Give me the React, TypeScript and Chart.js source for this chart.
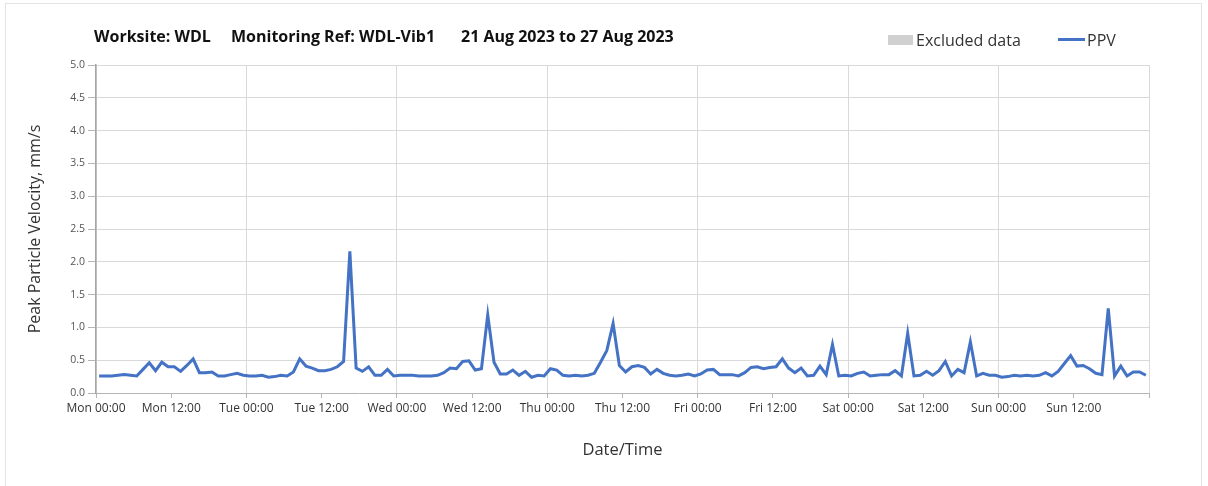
import React, { useEffect, useRef } from "react";
import { Chart, registerables } from "chart.js";

Chart.register(...registerables);

// Hourly PPV samples (mm/s), Mon 00:00 .. Sun 23:00, plotted at the middle of each hour
const ppv: number[] = [
  0.26, 0.26, 0.26, 0.27, 0.28, 0.27, 0.26, 0.36, 0.46, 0.34, 0.47, 0.40,
  0.40, 0.33, 0.42, 0.52, 0.31, 0.31, 0.32, 0.26, 0.26, 0.28, 0.30, 0.27,
  0.26, 0.26, 0.27, 0.24, 0.25, 0.27, 0.26, 0.32, 0.52, 0.41, 0.38, 0.34,
  0.34, 0.36, 0.40, 0.48, 2.16, 0.38, 0.33, 0.40, 0.27, 0.27, 0.36, 0.26,
  0.27, 0.27, 0.27, 0.26, 0.26, 0.26, 0.27, 0.31, 0.38, 0.37, 0.48, 0.49,
  0.35, 0.37, 1.19, 0.47, 0.29, 0.29, 0.35, 0.27, 0.33, 0.24, 0.27, 0.26,
  0.37, 0.35, 0.27, 0.26, 0.27, 0.26, 0.27, 0.30, 0.47, 0.65, 1.06, 0.42,
  0.32, 0.40, 0.42, 0.39, 0.29, 0.36, 0.30, 0.27, 0.26, 0.27, 0.29, 0.26,
  0.29, 0.35, 0.36, 0.28, 0.28, 0.28, 0.26, 0.31, 0.39, 0.40, 0.37, 0.39,
  0.40, 0.52, 0.38, 0.31, 0.38, 0.26, 0.27, 0.41, 0.28, 0.74, 0.26, 0.27,
  0.26, 0.30, 0.32, 0.26, 0.27, 0.28, 0.28, 0.34, 0.26, 0.91, 0.26, 0.27,
  0.33, 0.27, 0.34, 0.48, 0.26, 0.36, 0.31, 0.78, 0.26, 0.30, 0.27, 0.27,
  0.24, 0.25, 0.27, 0.26, 0.27, 0.26, 0.27, 0.31, 0.26, 0.33, 0.45, 0.57,
  0.41, 0.42, 0.37, 0.30, 0.28, 1.29, 0.26, 0.41, 0.26, 0.32, 0.32, 0.27,
];

// X tick labels every 12 hours from Mon 00:00
const xTickLabels: string[] = [
  "Mon 00:00", "Mon 12:00", "Tue 00:00", "Tue 12:00", "Wed 00:00", "Wed 12:00",
  "Thu 00:00", "Thu 12:00", "Fri 00:00", "Fri 12:00", "Sat 00:00", "Sat 12:00",
  "Sun 00:00", "Sun 12:00", "",
];

const yTicks: number[] = [0, 0.5, 1, 1.5, 2, 2.5, 3, 3.5, 4, 4.5, 5];

const titleParts: string[] = [
  "Worksite: WDL",
  "Monitoring Ref: WDL-Vib1",
  "21 Aug 2023 to 27 Aug 2023",
];

const FONT = "'Open Sans', 'Noto Sans', sans-serif";
const LINE_COLOR = "#4472C4";

export default function App() {
  const canvasRef = useRef<HTMLCanvasElement | null>(null);

  useEffect(() => {
    if (!canvasRef.current) return;
    const points = ppv.map((v, i) => ({ x: i + 0.5, y: v }));
    const chart = new Chart(canvasRef.current, {
      type: "line",
      data: {
        datasets: [
          {
            label: "PPV",
            data: points,
            borderColor: LINE_COLOR,
            backgroundColor: LINE_COLOR,
            borderWidth: 3,
            pointRadius: 0,
            tension: 0,
            fill: false,
          },
        ],
      },
      options: {
        animation: false,
        responsive: false,
        maintainAspectRatio: false,
        devicePixelRatio: 1,
        layout: { padding: { top: 65, right: 59, left: 0, bottom: 0 } },
        plugins: {
          legend: { display: false },
          title: { display: false },
          tooltip: { enabled: false },
        },
        scales: {
          x: {
            type: "linear",
            min: 0,
            max: 168,
            afterBuildTicks: (scale: any) => {
              scale.ticks = xTickLabels.map((_, i) => ({ value: i * 12 }));
            },
            afterFit: (scale: any) => {
              scale.height = 93;
            },
            ticks: {
              autoSkip: false,
              maxRotation: 0,
              minRotation: 0,
              padding: 3,
              color: "#333333",
              font: { family: FONT, size: 12 },
              callback: (value: any) => {
                const idx = Math.round(Number(value) / 12);
                return xTickLabels[idx] ?? "";
              },
            },
            grid: {
              color: (ctx: any) =>
                ctx.tick && ctx.tick.value % 24 === 0 ? "#d9d9d9" : "rgba(0,0,0,0)",
              tickColor: "#b5b5b5",
              tickLength: 5,
              lineWidth: 1,
            },
            border: { color: "#b5b5b5", width: 1 },
            title: {
              display: true,
              text: "Date/Time",
              color: "#333333",
              font: { family: FONT, size: 16.5 },
              padding: { top: 0, bottom: 26 },
            },
          },
          y: {
            type: "linear",
            min: 0,
            max: 5,
            afterBuildTicks: (scale: any) => {
              scale.ticks = yTicks.map((v) => ({ value: v }));
            },
            afterFit: (scale: any) => {
              scale.width = 96;
            },
            ticks: {
              padding: 3,
              color: "#555555",
              font: { family: FONT, size: 10.5 },
              callback: (value: any) => Number(value).toFixed(1),
            },
            grid: {
              color: "#d9d9d9",
              tickColor: "#b5b5b5",
              tickLength: 8,
              lineWidth: 1,
            },
            border: { color: "#a6a6a6", width: 1.5 },
            title: {
              display: true,
              text: "Peak Particle Velocity, mm/s",
              color: "#333333",
              font: { family: FONT, size: 16 },
              padding: { top: 26, bottom: 0 },
            },
          },
        },
      },
    });
    return () => chart.destroy();
  }, []);

  const titleLeft = [94, 231, 461];

  return (
    <div style={{ position: "absolute", left: 0, top: 0, width: 1208, height: 486, background: "#ffffff", overflow: "hidden" }}>
      <div
        style={{
          position: "absolute",
          left: 5,
          top: 3,
          width: 1195,
          height: 490,
          borderLeft: "1px solid #e3e3e3",
          borderRight: "1px solid #e3e3e3",
          borderTop: "1px solid #e3e3e3",
        }}
      />
      <canvas ref={canvasRef} width={1208} height={486} style={{ position: "absolute", left: 0, top: 0 }} />
      {titleParts.map((t, i) => (
        <div
          key={t}
          style={{
            position: "absolute",
            left: titleLeft[i],
            top: 26,
            fontFamily: FONT,
            fontWeight: 700,
            fontSize: 16,
            color: "#111111",
            whiteSpace: "nowrap",
            lineHeight: "20px",
          }}
        >
          {t}
        </div>
      ))}
      <div
        style={{
          position: "absolute",
          left: 888,
          top: 35,
          width: 25,
          height: 10,
          background: "#d0d0d0",
        }}
      />
      <div
        style={{
          position: "absolute",
          left: 916,
          top: 30,
          fontFamily: FONT,
          fontSize: 16,
          color: "#333333",
          lineHeight: "20px",
          whiteSpace: "nowrap",
        }}
      >
        Excluded data
      </div>
      <div
        style={{
          position: "absolute",
          left: 1058,
          top: 38,
          width: 27,
          height: 3,
          background: LINE_COLOR,
        }}
      />
      <div
        style={{
          position: "absolute",
          left: 1087,
          top: 30,
          fontFamily: FONT,
          fontSize: 16,
          color: "#333333",
          lineHeight: "20px",
          whiteSpace: "nowrap",
        }}
      >
        PPV
      </div>
    </div>
  );
}
